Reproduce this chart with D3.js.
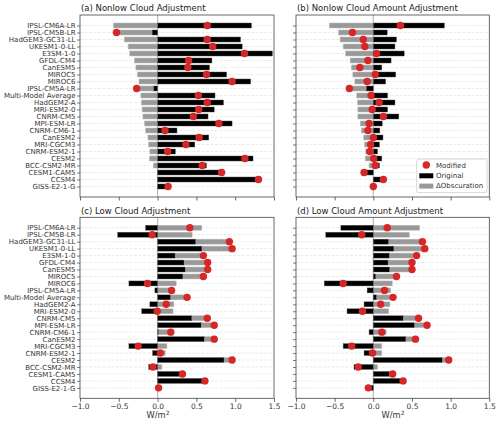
<!DOCTYPE html>
<html><head><meta charset="utf-8">
<script src="https://cdn.jsdelivr.net/npm/d3@7"></script>
<style>body{margin:0;background:#fff}svg{display:block}text{font-family:"DejaVu Sans",sans-serif}</style>
</head><body><svg id="c" width="500" height="424"></svg>
<script>
const categories = ["IPSL-CM6A-LR","IPSL-CM5B-LR","HadGEM3-GC31-LL","UKESM1-0-LL","E3SM-1-0","GFDL-CM4","CanESM5","MIROC5","MIROC6","IPSL-CM5A-LR","Multi-Model Average","HadGEM2-A","MRI-ESM2-0","CNRM-CM5","MPI-ESM-LR","CNRM-CM6-1","CanESM2","MRI-CGCM3","CNRM-ESM2-1","CESM2","BCC-CSM2-MR","CESM1-CAM5","CCSM4","GISS-E2-1-G"];
const xTicks = [-1.0,-0.5,0.0,0.5,1.0,1.5];
const titles = ["(a) Nonlow Cloud Adjustment","(b) Nonlow Cloud Amount Adjustment","(c) Low Cloud Adjustment","(d) Low Cloud Amount Adjustment"];
const legendLabels = ["Modified","Original","\u0394Obscuration"];

const aOrig = [1.21,-0.07,1.07,1.09,1.48,0.70,0.67,0.89,1.20,-0.05,0.74,0.85,0.73,0.65,0.96,0.25,0.66,0.48,0.23,1.23,0.63,0.83,1.30,0.125];
const aObsc = [-0.57,-0.46,-0.43,-0.38,-0.36,-0.30,-0.28,-0.26,-0.24,-0.22,-0.215,-0.21,-0.20,-0.19,-0.17,-0.155,-0.125,-0.115,-0.10,-0.105,-0.055,-0.005,0.0,0.01];
const aMod  = [0.64,-0.53,0.64,0.71,1.12,0.40,0.39,0.63,0.96,-0.27,0.525,0.64,0.53,0.46,0.79,0.095,0.535,0.365,0.13,1.125,0.575,0.825,1.30,0.135];

const bOrig = [0.92,0.18,0.30,0.28,0.40,0.23,0.11,0.29,0.16,-0.09,0.185,0.28,0.185,0.33,0.115,0.085,0.125,0.08,0.055,0.11,0.08,-0.12,0.13,0.0];
const bObsc = [-0.57,-0.45,-0.43,-0.39,-0.36,-0.30,-0.285,-0.265,-0.24,-0.22,-0.215,-0.205,-0.20,-0.20,-0.17,-0.155,-0.125,-0.115,-0.10,-0.105,-0.055,0.0,0.0,0.0];
const bMod  = [0.35,-0.27,-0.13,-0.11,0.04,-0.07,-0.175,0.025,-0.08,-0.31,-0.03,0.075,-0.015,0.13,-0.055,-0.07,0.0,-0.035,-0.045,0.005,0.025,-0.12,0.13,0.0];

const cOrig = [-0.155,-0.515,0.49,0.57,0.225,0.34,0.355,0.325,-0.37,-0.035,0.165,-0.10,-0.205,0.44,0.56,0.01,0.60,-0.37,-0.065,0.855,-0.115,0.285,0.58,0.0];
const cObsc = [0.57,0.445,0.435,0.39,0.365,0.305,0.29,0.265,0.24,0.215,0.215,0.21,0.20,0.20,0.17,0.16,0.13,0.12,0.10,0.105,0.055,0.035,0.03,0.013];
const cMod  = [0.415,-0.07,0.925,0.96,0.59,0.645,0.645,0.59,-0.13,0.18,0.38,0.11,-0.005,0.64,0.73,0.17,0.73,-0.25,0.035,0.96,-0.06,0.32,0.61,0.013];

const dOrig = [-0.42,-0.615,0.195,0.265,0.205,0.19,0.21,0.03,-0.635,-0.08,0.04,-0.12,-0.34,0.385,0.53,-0.055,0.42,-0.39,-0.12,0.89,-0.25,0.21,0.35,-0.03];
const dObsc = [0.60,0.465,0.44,0.40,0.355,0.31,0.29,0.27,0.245,0.225,0.215,0.215,0.20,0.20,0.165,0.165,0.125,0.11,0.11,0.085,0.055,0.04,0.035,-0.035];
const dMod  = [0.18,-0.15,0.635,0.665,0.56,0.50,0.50,0.30,-0.39,0.145,0.255,0.095,-0.14,0.585,0.695,0.11,0.545,-0.28,-0.01,0.975,-0.195,0.25,0.385,-0.065];

const RED = "#d62728", GRAY = "#999999", BLACK = "#000000";
const svg = d3.select("#c");
svg.append("rect").attr("width",500).attr("height",424).attr("fill","#fff");

const panels = [
  {title:titles[0], orig:aOrig, obsc:aObsc, mod:aMod, x0:80,  x1:274,   y0:15,    y1:197,   ylab:true,  xlab:false},
  {title:titles[1], orig:bOrig, obsc:bObsc, mod:bMod, x0:296, x1:489.3, y0:15,    y1:197,   ylab:false, xlab:false, legend:true},
  {title:titles[2], orig:cOrig, obsc:cObsc, mod:cMod, x0:80,  x1:274,   y0:217.3, y1:398.3, ylab:true,  xlab:true, xlabX:158},
  {title:titles[3], orig:dOrig, obsc:dObsc, mod:dMod, x0:296, x1:489.3, y0:217.3, y1:398.3, ylab:false, xlab:true, xlabX:393}
];

const idx = categories.map((c,i)=>i);

panels.forEach(p=>{
  const g = svg.append("g");
  const x = d3.scaleLinear().domain([-1,1.5]).range([p.x0,p.x1]);
  const y = d3.scaleLinear().domain([-1.5,24.5]).range([p.y0,p.y1]);
  const step = y(1)-y(0);
  const bh = step*0.72;

  g.selectAll(".grid").data(idx).enter().append("line")
    .attr("x1",p.x0).attr("x2",p.x1).attr("y1",i=>y(i)).attr("y2",i=>y(i))
    .attr("stroke","#e2e2e2").attr("stroke-width",0.7).attr("stroke-dasharray","3,1.5");
  g.append("line").attr("x1",x(0)).attr("x2",x(0)).attr("y1",p.y0).attr("y2",p.y1)
    .attr("stroke","#bdbdbd").attr("stroke-width",1.3);

  g.selectAll(".ob").data(idx).enter().append("rect")
    .attr("x",i=>{const o=p.orig[i],d=p.obsc[i];const s=(o*d>0)?o:0;return Math.min(x(s),x(s+d));})
    .attr("width",i=>{const d=p.obsc[i];return Math.abs(x(d)-x(0));})
    .attr("y",i=>y(i)-bh/2).attr("height",bh)
    .attr("fill",GRAY).attr("stroke","#c4c4c4").attr("stroke-width",0.5);
  g.selectAll(".or").data(idx).enter().append("rect")
    .attr("x",i=>Math.min(x(0),x(p.orig[i])))
    .attr("width",i=>Math.abs(x(p.orig[i])-x(0)))
    .attr("y",i=>y(i)-bh/2).attr("height",bh)
    .attr("fill",BLACK).attr("stroke","#666").attr("stroke-width",0.4);
  g.selectAll(".md").data(idx).enter().append("circle")
    .attr("cx",i=>x(p.mod[i])).attr("cy",i=>y(i)).attr("r",3.7).attr("fill",RED);

  g.append("rect").attr("x",p.x0).attr("y",p.y0).attr("width",p.x1-p.x0).attr("height",p.y1-p.y0)
    .attr("fill","none").attr("stroke","#444").attr("stroke-width",0.8);

  const xa = d3.axisBottom(x).tickValues(xTicks).tickSize(3.5).tickSizeOuter(0).tickPadding(2)
    .tickFormat(p.xlab ? d3.format(".1f") : ()=>"");
  const gx = g.append("g").attr("transform",`translate(0,${p.y1})`).call(xa);
  gx.select(".domain").remove();
  gx.selectAll("line").attr("stroke","#444").attr("stroke-width",0.8);
  gx.selectAll("text").attr("font-size",7.5).attr("fill","#333").attr("font-family","DejaVu Sans");

  const ya = d3.axisLeft(y).tickValues(idx).tickSize(3).tickSizeOuter(0).tickPadding(1.5)
    .tickFormat(p.ylab ? (i=>categories[i]) : ()=>"");
  const gy = g.append("g").attr("transform",`translate(${p.x0},0)`).call(ya);
  gy.select(".domain").remove();
  gy.selectAll("line").attr("stroke","#444").attr("stroke-width",0.7);
  gy.selectAll("text").attr("font-size",7).attr("fill","#333").attr("font-family","DejaVu Sans");

  g.append("text").attr("x",p.x0+1).attr("y",p.y0-3.8).attr("font-size",8.5).attr("fill","#222").text(p.title);

  if (p.xlab){
    const t = g.append("text").attr("x",p.xlabX).attr("y",p.y1+20).attr("text-anchor","middle")
      .attr("font-size",8.3).attr("fill","#333");
    t.append("tspan").text("W/m");
    t.append("tspan").attr("font-size",5.8).attr("dy",-3.3).text("2");
  }

  if (p.legend){
    const lg = g.append("g");
    lg.append("rect").attr("x",416.7).attr("y",159).attr("width",70.3).attr("height",33.7)
      .attr("rx",2).attr("fill","#fff").attr("fill-opacity",0.85).attr("stroke","#ccc").attr("stroke-width",0.8);
    lg.append("circle").attr("cx",426.3).attr("cy",165).attr("r",3.7).attr("fill",RED);
    lg.append("rect").attr("x",419.3).attr("y",173.3).attr("width",14).attr("height",5).attr("fill",BLACK);
    lg.append("rect").attr("x",419.3).attr("y",183.6).attr("width",14).attr("height",5).attr("fill",GRAY);
    legendLabels.forEach((t,k)=>{
      lg.append("text").attr("x",436).attr("y",167.6+k*10.4).attr("font-size",7).attr("fill","#333").text(t);
    });
  }
});
</script></body></html>
